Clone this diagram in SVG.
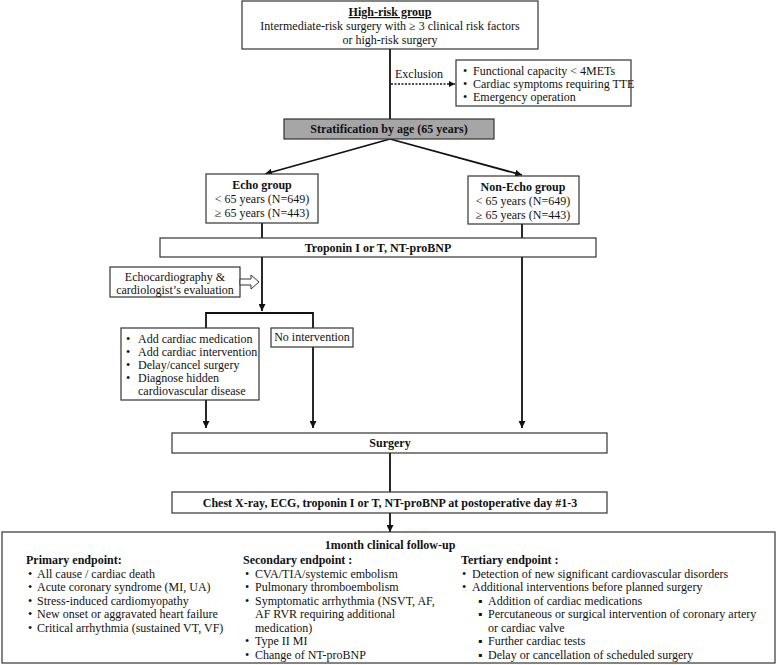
<svg xmlns="http://www.w3.org/2000/svg" width="777" height="665" viewBox="0 0 777 665">
<defs>
<style>
text{font-family:"Liberation Serif","Times New Roman",serif;font-size:12px;fill:#111}
.b{font-weight:bold}
.m{text-anchor:middle}
.box{fill:#fff;stroke:#333;stroke-width:1.2}
.ln{fill:none;stroke:#111;stroke-width:1.8}
</style>
<marker id="ah" viewBox="0 0 10 10" refX="10" refY="5" markerWidth="7" markerHeight="7" markerUnits="userSpaceOnUse" orient="auto">
<path d="M0,0 L10,5 L0,10 z" fill="#111"/>
</marker>
<marker id="ahs" viewBox="0 0 10 10" refX="10" refY="5" markerWidth="6" markerHeight="6" markerUnits="userSpaceOnUse" orient="auto">
<path d="M0,0 L10,5 L0,10 z" fill="#111"/>
</marker>
</defs>
<rect width="777" height="665" fill="#fff"/>

<g id="connectors">
<line class="ln" x1="390" y1="49" x2="390" y2="119"/>
<line x1="391" y1="84" x2="455" y2="84" stroke="#111" stroke-width="1.3" stroke-dasharray="2,1.5" marker-end="url(#ahs)"/>
<line class="ln" x1="390" y1="139" x2="265" y2="174" marker-end="url(#ah)"/>
<line class="ln" x1="390" y1="139" x2="522" y2="175" marker-end="url(#ah)"/>
<line class="ln" x1="262" y1="223" x2="262" y2="238"/>
<line class="ln" x1="522" y1="224" x2="522" y2="238"/>
<line class="ln" x1="262" y1="257" x2="262" y2="311" marker-end="url(#ah)"/>
<polyline class="ln" points="206,328 206,313 313,313 313,328"/>
<line class="ln" x1="206" y1="400" x2="206" y2="428" marker-end="url(#ah)"/>
<line class="ln" x1="313" y1="347" x2="313" y2="428" marker-end="url(#ah)"/>
<line class="ln" x1="522" y1="257" x2="522" y2="428" marker-end="url(#ah)"/>
<line class="ln" x1="390" y1="453" x2="390" y2="492"/>
<line class="ln" x1="390" y1="513" x2="390" y2="532" marker-end="url(#ah)"/>
</g>

<g id="high-risk">
<rect class="box" x="242" y="1" width="296" height="48"/>
<text class="b m" x="390" y="16" text-decoration="underline">High-risk group</text>
<text class="m" x="390" y="30">Intermediate-risk surgery with ≥ 3 clinical risk factors</text>
<text class="m" x="390" y="44">or high-risk surgery</text>
</g>

<g id="exclusion-label">
<text class="m" x="419" y="78">Exclusion</text>
</g>

<g id="exclusion">
<rect class="box" x="456" y="60" width="175" height="46"/>
<text x="463" y="75">•</text><text x="473" y="75">Functional capacity &lt; 4METs</text>
<text x="463" y="88">•</text><text x="473" y="88">Cardiac symptoms requiring TTE</text>
<text x="463" y="101">•</text><text x="473" y="101">Emergency operation</text>
</g>

<g id="stratification">
<rect x="284" y="119" width="210" height="20" fill="#a6a6a6" stroke="#333" stroke-width="1.2"/>
<text class="b m" x="389" y="133">Stratification by age (65 years)</text>
</g>

<g id="echo">
<rect class="box" x="206" y="174" width="112" height="49"/>
<text class="b m" x="262" y="189">Echo group</text>
<text class="m" x="262" y="203">&lt; 65 years (N=649)</text>
<text class="m" x="262" y="217">≥ 65 years (N=443)</text>
</g>

<g id="non-echo">
<rect class="box" x="468" y="176" width="111" height="48"/>
<text class="b m" x="523" y="191">Non-Echo group</text>
<text class="m" x="523" y="205">&lt; 65 years (N=649)</text>
<text class="m" x="523" y="219">≥ 65 years (N=443)</text>
</g>

<g id="troponin">
<rect class="box" x="160" y="238" width="436" height="19"/>
<text class="b m" x="378" y="252">Troponin I or T, NT-proBNP</text>
</g>

<g id="echocardiography">
<rect class="box" x="110" y="267" width="130" height="30"/>
<polygon points="240,279 251,279 251,275 259,282 251,289 251,285 240,285" fill="#fff" stroke="#333" stroke-width="1"/>
<text class="m" x="175" y="281">Echocardiography &amp;</text>
<text class="m" x="175" y="294">cardiologist’s evaluation</text>
</g>

<g id="actions">
<rect class="box" x="121" y="328" width="138" height="72"/>
<text x="126" y="343">•</text><text x="138" y="343">Add cardiac medication</text>
<text x="126" y="356">•</text><text x="138" y="356">Add cardiac intervention</text>
<text x="126" y="369">•</text><text x="138" y="369">Delay/cancel surgery</text>
<text x="126" y="382">•</text><text x="138" y="382">Diagnose hidden</text>
<text x="138" y="395">cardiovascular disease</text>
</g>

<g id="no-intervention">
<rect class="box" x="271" y="328" width="82" height="19"/>
<text class="m" x="312" y="341">No intervention</text>
</g>

<g id="surgery">
<rect class="box" x="172" y="433" width="435" height="20"/>
<text class="b m" x="390" y="447">Surgery</text>
</g>

<g id="postop">
<rect class="box" x="172" y="492" width="435" height="21"/>
<text class="b m" x="390" y="507">Chest X-ray, ECG, troponin I or T, NT-proBNP at postoperative day #1-3</text>
</g>

<g id="follow-up">
<rect class="box" x="2" y="532" width="773" height="131"/>
<text class="b m" x="390" y="549">1month clinical follow-up</text>
<text class="b" x="26" y="564">Primary endpoint:</text>
<text x="28" y="577.5">•</text><text x="37" y="577.5">All cause / cardiac death</text>
<text x="28" y="591">•</text><text x="37" y="591">Acute coronary syndrome (MI, UA)</text>
<text x="28" y="604.5">•</text><text x="37" y="604.5">Stress-induced cardiomyopathy</text>
<text x="28" y="618">•</text><text x="37" y="618">New onset or aggravated heart failure</text>
<text x="28" y="631.5">•</text><text x="37" y="631.5">Critical arrhythmia (sustained VT, VF)</text>

<text class="b" x="243" y="564">Secondary endpoint :</text>
<text x="245" y="577.5">•</text><text x="255" y="577.5">CVA/TIA/systemic embolism</text>
<text x="245" y="591">•</text><text x="255" y="591">Pulmonary thromboembolism</text>
<text x="245" y="604.5">•</text><text x="255" y="604.5">Symptomatic arrhythmia (NSVT, AF,</text>
<text x="255" y="618">AF RVR requiring additional</text>
<text x="255" y="631.5">medication)</text>
<text x="245" y="645">•</text><text x="255" y="645">Type II MI</text>
<text x="245" y="658.5">•</text><text x="255" y="658.5">Change of NT-proBNP</text>

<text class="b" x="461" y="564">Tertiary endpoint :</text>
<text x="462" y="577.5">•</text><text x="472" y="577.5">Detection of new significant cardiovascular disorders</text>
<text x="462" y="591">•</text><text x="472" y="591">Additional interventions before planned surgery</text>
<text x="478" y="604.5">▪</text><text x="488" y="604.5">Addition of cardiac medications</text>
<text x="478" y="618">▪</text><text x="488" y="618">Percutaneous or surgical intervention of coronary artery</text>
<text x="488" y="631.5">or cardiac valve</text>
<text x="478" y="645">▪</text><text x="488" y="645">Further cardiac tests</text>
<text x="478" y="658.5">▪</text><text x="488" y="658.5">Delay or cancellation of scheduled surgery</text>
</g>
</svg>
